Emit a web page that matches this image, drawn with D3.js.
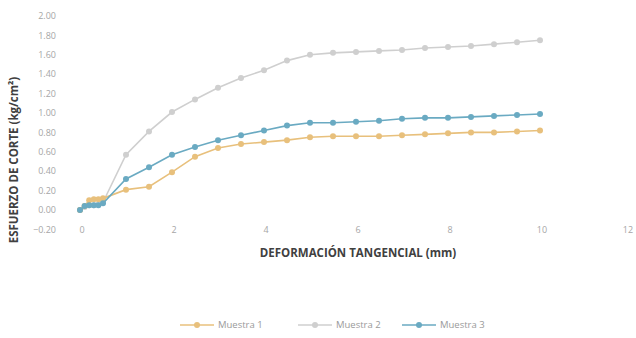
<!DOCTYPE html>
<html>
<head>
<meta charset="utf-8">
<script src="https://cdn.jsdelivr.net/npm/d3@7"></script>
<style>
  body { margin: 0; background: #fff; }
  text { font-family: "Open Sans", "DejaVu Sans", sans-serif; }
</style>
</head>
<body>
<div id="chart"></div>
<script>
// data
var deformacion = [0, 0.1, 0.2, 0.3, 0.4, 0.5, 1, 1.5, 2, 2.5, 3, 3.5, 4, 4.5, 5, 5.5, 6, 6.5, 7, 7.5, 8, 8.5, 9, 9.5, 10]
var muestra1 = [0.00, 0.04, 0.10, 0.11, 0.11, 0.12, 0.21, 0.24, 0.39, 0.55, 0.64, 0.68, 0.70, 0.72, 0.75, 0.76, 0.76, 0.76, 0.77, 0.78, 0.79, 0.80, 0.80, 0.81, 0.82]
var muestra2 = [0.00, 0.03, 0.05, 0.05, 0.06, 0.08, 0.57, 0.81, 1.01, 1.14, 1.26, 1.36, 1.44, 1.54, 1.60, 1.62, 1.63, 1.64, 1.65, 1.67, 1.68, 1.69, 1.71, 1.73, 1.75]
var muestra3 = [0.00, 0.04, 0.05, 0.05, 0.05, 0.07, 0.32, 0.44, 0.57, 0.65, 0.72, 0.77, 0.82, 0.87, 0.90, 0.90, 0.91, 0.92, 0.94, 0.95, 0.95, 0.96, 0.97, 0.98, 0.99]
var xTicks = [0, 2, 4, 6, 8, 10, 12]
var yTicks = [-0.2, 0, 0.2, 0.4, 0.6, 0.8, 1.0, 1.2, 1.4, 1.6, 1.8, 2.0]
var seriesNames = ["Muestra 1", "Muestra 2", "Muestra 3"]
var colors = ["#e8c07c", "#cfcfcf", "#6aaac2"]

var width = 636, height = 338

var svg = d3.select("#chart").append("svg")
    .attr("width", width)
    .attr("height", height)

var x = d3.scaleLinear().domain([0, 12]).range([80, 632])
var y = d3.scaleLinear().domain([-0.2, 2.0]).range([229.4, 16])

var series = [muestra1, muestra2, muestra3].map(function(vals, i){
  return {
    name: seriesNames[i],
    color: colors[i],
    points: vals.map(function(v, j){ return {x: deformacion[j], y: v} })
  }
})

// y tick labels
svg.append("g").selectAll("text")
  .data(yTicks)
  .enter().append("text")
  .attr("x", 56)
  .attr("y", function(d){ return y(d) })
  .attr("dy", "0.35em")
  .attr("text-anchor", "end")
  .attr("font-size", 9)
  .attr("fill", "#a6a6a6")
  .text(function(d){ return d3.format(".2f")(d) })

// x tick labels (last one is kept inside the window)
svg.append("g").selectAll("text")
  .data(xTicks)
  .enter().append("text")
  .attr("x", function(d){ return Math.min(x(d) + 2, width - 8) })
  .attr("y", y(-0.2))
  .attr("dy", "0.35em")
  .attr("text-anchor", "middle")
  .attr("font-size", 9)
  .attr("fill", "#a6a6a6")
  .text(function(d){ return d })

// lines + markers; grey drawn first so it sits underneath
var order = [1, 0, 2]
var line = d3.line()
  .x(function(d){ return x(d.x) })
  .y(function(d){ return y(d.y) })

order.forEach(function(k){
  var s = series[k]
  var g = svg.append("g")
  g.append("path")
    .datum(s.points)
    .attr("d", line)
    .attr("fill", "none")
    .attr("stroke", s.color)
    .attr("stroke-width", 1.6)
  g.selectAll("circle")
    .data(s.points)
    .enter().append("circle")
    .attr("cx", function(d){ return x(d.x) })
    .attr("cy", function(d){ return y(d.y) })
    .attr("r", 3)
    .attr("fill", s.color)
})

// axis titles
svg.append("text")
  .attr("x", 358)
  .attr("y", 257)
  .attr("text-anchor", "middle")
  .attr("font-size", 11.5)
  .attr("font-weight", "bold")
  .attr("fill", "#404040")
  .text("DEFORMACIÓN TANGENCIAL (mm)")

svg.append("text")
  .attr("transform", "translate(18,160) rotate(-90)")
  .attr("text-anchor", "middle")
  .attr("font-size", 11.5)
  .attr("font-weight", "bold")
  .attr("fill", "#404040")
  .text("ESFUERZO DE CORTE (kg/cm²)")

// legend
var legX = [180, 298, 402]
var leg = svg.append("g").selectAll("g")
  .data(series)
  .enter().append("g")
  .attr("transform", function(d, i){ return "translate(" + legX[i] + ",325)" })
leg.append("line")
  .attr("x1", 0).attr("x2", 34)
  .attr("stroke", function(d){ return d.color })
  .attr("stroke-width", 1.6)
leg.append("circle")
  .attr("cx", 17).attr("r", 3)
  .attr("fill", function(d){ return d.color })
leg.append("text")
  .attr("x", 38)
  .attr("dy", "0.35em")
  .attr("font-size", 9.5)
  .attr("fill", "#9a9a9a")
  .text(function(d){ return d.name })
</script>
</body>
</html>
